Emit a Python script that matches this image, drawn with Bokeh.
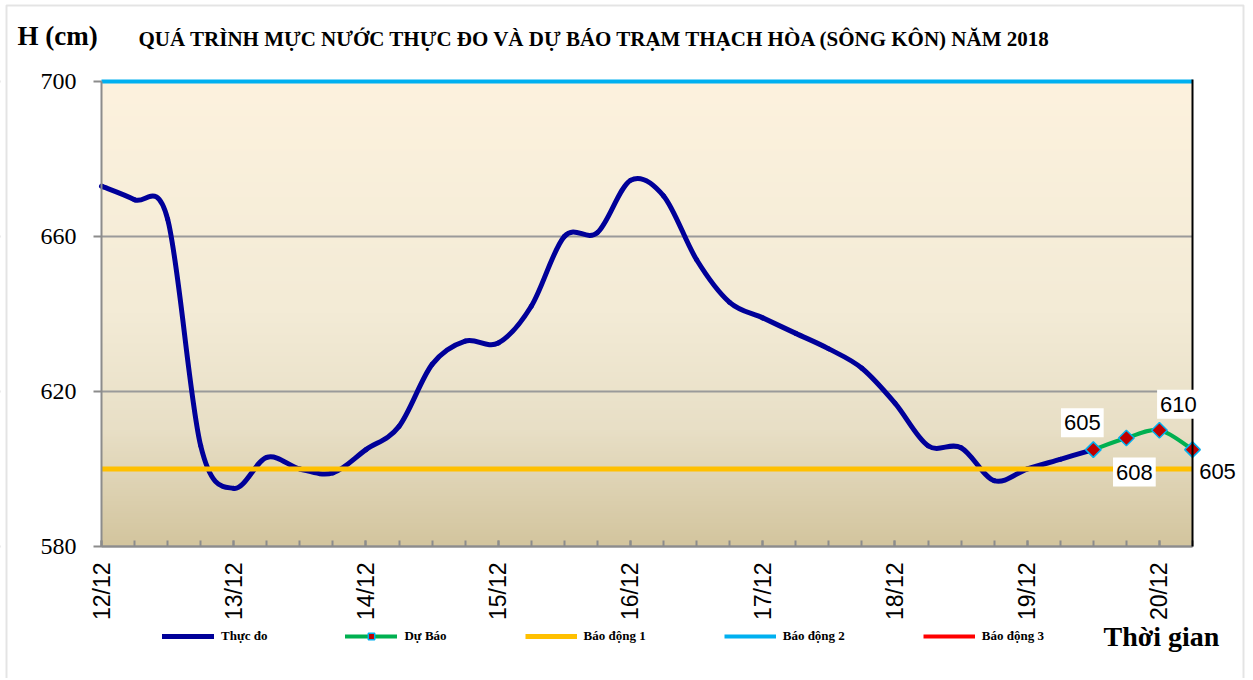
import math
import numpy as np
from bokeh.plotting import figure
from bokeh.models import (Range1d, FixedTicker, Legend, LegendItem, Label,
                          ColumnDataSource, BoxAnnotation, LinearAxis)
from bokeh.embed import file_html
from bokeh.resources import INLINE

# ---------------- data ----------------
day_labels = ["12/12", "13/12", "14/12", "15/12", "16/12", "17/12", "18/12", "19/12", "20/12"]
day_ticks_h = [0, 24, 48, 72, 96, 120, 144, 168, 192]

obs_time_h = [0, 6, 12, 18, 24, 30, 36, 42, 48, 54, 60, 66, 72, 78, 84, 90,
              96, 102, 108, 114, 120, 126, 132, 138, 144, 150, 156, 162, 168, 174, 180]
obs_level = [673, 669.5, 664.5, 606, 595, 603, 600, 599, 605, 611, 627, 633, 632.5, 642,
             660, 661, 674.5, 670.5, 654, 643, 639, 635, 631, 626, 617, 606, 605.5,
             597, 600, 602.5, 605]

fc_time_h = [180, 186, 192, 198]
fc_level = [605, 608, 610, 605]

alarm_names = ["Báo động 1", "Báo động 2", "Báo động 3"]
alarm_levels = [600, 700, 800]
alarm_colors = ["#FFC000", "#00B0F0", "#FF0000"]

y_ticks = [580, 620, 660, 700]

TITLE = "QUÁ TRÌNH MỰC NƯỚC THỰC ĐO VÀ DỰ BÁO TRẠM THẠCH HÒA (SÔNG KÔN) NĂM 2018"

# ---------------- helpers ----------------
def smooth_source(xs, ys):
    n = len(xs)
    d = dict(x0=[], y0=[], x1=[], y1=[], cx0=[], cy0=[], cx1=[], cy1=[])
    for i in range(n - 1):
        im, ip = max(i - 1, 0), min(i + 2, n - 1)
        d["x0"].append(xs[i]); d["y0"].append(ys[i])
        d["x1"].append(xs[i + 1]); d["y1"].append(ys[i + 1])
        d["cx0"].append(xs[i] + (xs[i + 1] - xs[im]) / 6)
        d["cy0"].append(ys[i] + (ys[i + 1] - ys[im]) / 6)
        d["cx1"].append(xs[i + 1] - (xs[ip] - xs[i]) / 6)
        d["cy1"].append(ys[i + 1] - (ys[ip] - ys[i]) / 6)
    return ColumnDataSource(d)

# ---------------- layout geometry (page pixels) ----------------
W, H = 1250, 678
PX_LEFT, PX_RIGHT = 101, 1192      # chart body left/right edge
PX_TOP, PX_BOTTOM = 81, 546        # y of the top (700) and bottom (580) ticks
x_start, x_end = obs_time_h[0], fc_time_h[-1]
y_lo, y_top = y_ticks[0], y_ticks[-1]
sx = (PX_RIGHT - PX_LEFT) / (x_end - x_start)
sy = (PX_BOTTOM - PX_TOP) / (y_top - y_lo)

def xd(px):
    return x_start + (px - PX_LEFT) / sx

def yd(py):
    return y_top - (py - PX_TOP) / sy

p = figure(width=W, height=H, x_range=Range1d(xd(0), xd(W)), y_range=Range1d(yd(H), yd(0)),
           output_backend="svg", toolbar_location=None,
           min_border=0, min_border_left=0, min_border_right=0,
           min_border_top=0, min_border_bottom=0,
           border_fill_color="white", outline_line_color=None,
           background_fill_color="white")

# gradient background of the chart body
rows = 240
t = np.linspace(0, 1, rows)  # 0 = bottom, 1 = top
stops_t = [0.0, 0.25, 0.5, 1.0]
stops_c = [(211, 197, 158), (232, 223, 198), (243, 235, 214), (253, 242, 222)]
img = np.zeros((rows, 1), dtype=np.uint32)
view = img.view(dtype=np.uint8).reshape((rows, 1, 4))
for ch in range(3):
    view[:, 0, ch] = np.interp(t, stops_t, [c[ch] for c in stops_c]).astype(np.uint8)
view[:, 0, 3] = 255
p.image_rgba(image=[img], x=x_start, y=y_lo, dw=x_end - x_start, dh=y_top - y_lo,
             level="image")

# grid (limited to the chart body by white masks)
p.xgrid.visible = False
p.ygrid.ticker = FixedTicker(ticks=y_ticks)
p.ygrid.grid_line_color = "#9a9a9a"
p.ygrid.grid_line_width = 2
p.add_layout(BoxAnnotation(right=x_start, fill_color="white", fill_alpha=1,
                           line_alpha=0, level="underlay"))
p.add_layout(BoxAnnotation(left=x_end, fill_color="white", fill_alpha=1,
                           line_alpha=0, level="underlay"))

# outer frame of the chart
p.add_layout(BoxAnnotation(left=xd(6), right=xd(1243), top=yd(5), bottom=yd(H + 20),
                           fill_alpha=0, line_color="#a6a6a6", line_width=2,
                           level="underlay"))

# axes
ax = p.xaxis[0]
ax.fixed_location = y_lo
ax.bounds = (x_start, x_end)
ax.ticker = FixedTicker(ticks=day_ticks_h, minor_ticks=list(range(0, 199, 6)))
ax.major_label_overrides = {t_: lab for t_, lab in zip(day_ticks_h, day_labels)}
ax.major_label_orientation = math.pi / 2
ax.major_label_text_font = "Liberation Sans"
ax.major_label_text_font_size = "23px"
ax.major_label_text_color = "black"
ax.major_label_standoff = 16
ax.axis_line_color = "#8c8c8c"
ax.axis_line_width = 2
ax.major_tick_in = 6
ax.major_tick_out = 0
ax.minor_tick_in = 6
ax.minor_tick_out = 0
ax.major_tick_line_color = "#8c8c8c"
ax.minor_tick_line_color = "#8c8c8c"
ax.major_tick_line_width = 2
ax.minor_tick_line_width = 2

ay = p.yaxis[0]
ay.fixed_location = x_start
ay.bounds = (y_lo, y_top)
ay.ticker = FixedTicker(ticks=y_ticks)
ay.major_label_text_font = "Liberation Serif"
ay.major_label_text_font_size = "24px"
ay.major_label_text_color = "black"
ay.major_label_standoff = 17
ay.axis_line_color = "#8c8c8c"
ay.axis_line_width = 2
ay.major_tick_in = 0
ay.major_tick_out = 8
ay.major_tick_line_color = "#8c8c8c"
ay.major_tick_line_width = 2
ay.minor_tick_line_color = None

right_ax = LinearAxis(fixed_location=x_end, bounds=(y_lo, y_top + 0.6),
                      ticker=FixedTicker(ticks=[]), axis_line_color="black",
                      axis_line_width=2, major_tick_line_color=None,
                      minor_tick_line_color=None, major_label_text_font_size="0px")
p.add_layout(right_ax, "right")

# observed
obs_src = smooth_source(obs_time_h, obs_level)
r_obs = p.bezier(x0="x0", y0="y0", x1="x1", y1="y1", cx0="cx0", cy0="cy0",
                 cx1="cx1", cy1="cy1", source=obs_src, line_color="#000099",
                 line_width=5, line_cap="round")

# alarm lines
alarm_renderers = []
for lev, col in zip(alarm_levels, alarm_colors):
    r = p.line(x=[x_start, x_end], y=[lev, lev], line_color=col,
               line_width=5 if lev == alarm_levels[0] else 4)
    alarm_renderers.append(r)

# forecast
fc_src = smooth_source(fc_time_h, fc_level)
r_fc = p.bezier(x0="x0", y0="y0", x1="x1", y1="y1", cx0="cx0", cy0="cy0",
                cx1="cx1", cy1="cy1", source=fc_src, line_color="#00B050",
                line_width=4, line_cap="round")
r_fc_pts = p.scatter(x=fc_time_h, y=fc_level, marker="square", angle=math.pi / 4,
                     size=11, fill_color="#C00000", line_color="#00B0F0",
                     line_width=1.5)

# data labels
label_offsets = [(-11, 27), (8, -34), (19, 26), (25, -22)]
for xv, yv, (ox, oy) in zip(fc_time_h, fc_level, label_offsets):
    p.add_layout(Label(x=xv, y=yv, text=str(yv), x_offset=ox, y_offset=oy,
                       text_align="center", text_baseline="middle",
                       text_font="Liberation Sans", text_font_size="22px",
                       text_color="black", background_fill_color="white",
                       padding=(3, 7)))

# texts
p.add_layout(Label(x=xd(17), y=yd(35), text="H (cm)", text_font="Liberation Serif",
                   text_font_style="bold", text_font_size="27px",
                   text_baseline="middle", text_color="black"))
p.add_layout(Label(x=xd(138), y=yd(38), text=TITLE, text_font="Liberation Serif",
                   text_font_style="bold", text_font_size="21px",
                   text_baseline="middle", text_color="black"))
p.add_layout(Label(x=xd(1103), y=yd(636), text="Thời gian", text_font="Liberation Serif",
                   text_font_style="bold", text_font_size="28px",
                   text_baseline="middle", text_color="black"))

# legend
legend = Legend(items=[
    LegendItem(label="Thực đo", renderers=[r_obs]),
    LegendItem(label="Dự Báo", renderers=[r_fc, r_fc_pts]),
    LegendItem(label=alarm_names[0], renderers=[alarm_renderers[0]]),
    LegendItem(label=alarm_names[1], renderers=[alarm_renderers[1]]),
    LegendItem(label=alarm_names[2], renderers=[alarm_renderers[2]]),
], location=(162, H - 644), orientation="horizontal", glyph_width=52,
    glyph_height=16, label_height=16, label_standoff=7, padding=0, margin=0,
    spacing=78, border_line_alpha=0, background_fill_alpha=0,
    label_text_font="Liberation Serif", label_text_font_style="bold",
    label_text_font_size="13px", label_text_color="black")
p.add_layout(legend)

open("out.html", "w").write(file_html(p, INLINE))
